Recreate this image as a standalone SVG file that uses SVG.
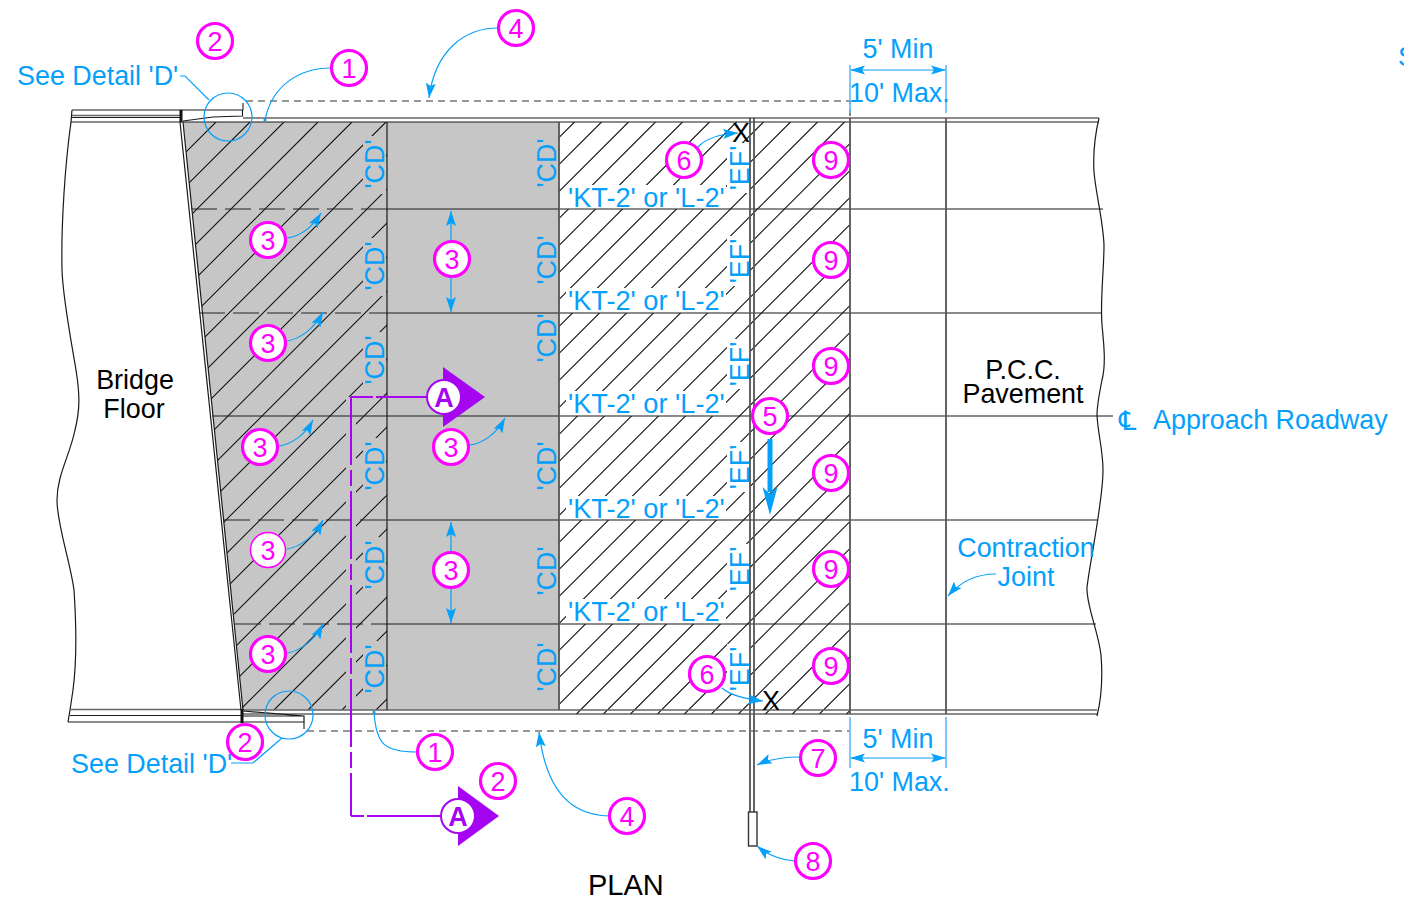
<svg xmlns="http://www.w3.org/2000/svg" width="1404" height="910" viewBox="0 0 1404 910">
<style>
text{font-family:"Liberation Sans",Arial,sans-serif;font-size:26.9px}
.b{fill:#05a0fa}.k{fill:#000}
.m{fill:#ff00ff;text-anchor:middle;font-size:27px}
.c{fill:#fff;stroke:#ff00ff;stroke-width:3.200}
.c1{fill:#fff;stroke:#ff00ff;stroke-width:1.500}
.l{fill:none;stroke:#05a0fa;stroke-width:1.200}
.la{fill:none;stroke:#05a0fa;stroke-width:1.200;marker-end:url(#ah)}
.ld{fill:none;stroke:#05a0fa;stroke-width:1.200;marker-end:url(#dot)}
.d{fill:none;stroke:#58bdf8;stroke-width:1.600}
.s{fill:none;stroke:#1a1a1a;stroke-width:1.200}
.g{fill:none;stroke:#666;stroke-width:1.600}
.v{fill:none;stroke:#555;stroke-width:1.800}
.da{fill:none;stroke:#222;stroke-width:1.200;stroke-dasharray:26 8}
.ds{fill:none;stroke:#333;stroke-width:1.200;stroke-dasharray:7 5}
.pg{fill:#c6c6c6}.pw{fill:#fff}
.p{fill:none;stroke:#a505f0;stroke-width:2}
.t{fill:#a505f0}
.cA{fill:#fff;stroke:#a505f0;stroke-width:2}
.A{fill:#a505f0;font-weight:bold;text-anchor:middle;font-size:27px}
.mid{text-anchor:middle}
.kt{font-size:27.200px}
</style>
<defs>
<marker id="ah" markerUnits="userSpaceOnUse" markerWidth="16" markerHeight="10" refX="15" refY="5" orient="auto"><path d="M0,0 L15,5 L0,10 L3,5Z" fill="#05a0fa"/></marker>
<marker id="dot" markerUnits="userSpaceOnUse" markerWidth="4" markerHeight="4" refX="2" refY="2" orient="auto"><circle cx="2" cy="2" r="1.600" fill="#05a0fa"/></marker>
<clipPath id="cl"><polygon points="183,122 387,122 387,710 243,710"/></clipPath>
<clipPath id="cr"><rect x="559" y="122" width="291" height="592"/></clipPath>
</defs>

<g id="slab">
<polygon class="pg" points="183,122 559,122 559,710 243,710"/>
<path clip-path="url(#cl)" fill="none" stroke="#111" stroke-width="1.100" d="M216,122l-588,588M250,122l-588,588M284,122l-588,588M318,122l-588,588M352,122l-588,588M386,122l-588,588M420,122l-588,588M454,122l-588,588M488,122l-588,588M522,122l-588,588M556,122l-588,588M590,122l-588,588M624,122l-588,588M658,122l-588,588M692,122l-588,588M726,122l-588,588M760,122l-588,588M794,122l-588,588M828,122l-588,588M862,122l-588,588M896,122l-588,588M930,122l-588,588M964,122l-588,588"/>
<path clip-path="url(#cr)" fill="none" stroke="#111" stroke-width="1.100" d="M574.500,122l-592,592M601.500,122l-592,592M628.500,122l-592,592M655.500,122l-592,592M682.500,122l-592,592M709.500,122l-592,592M736.500,122l-592,592M763.500,122l-592,592M790.500,122l-592,592M817.500,122l-592,592M844.500,122l-592,592M871.500,122l-592,592M898.500,122l-592,592M925.500,122l-592,592M952.500,122l-592,592M979.500,122l-592,592M1006.500,122l-592,592M1033.500,122l-592,592M1060.500,122l-592,592M1087.500,122l-592,592M1114.500,122l-592,592M1141.500,122l-592,592M1168.500,122l-592,592M1195.500,122l-592,592M1222.500,122l-592,592M1249.500,122l-592,592M1276.500,122l-592,592M1303.500,122l-592,592M1330.500,122l-592,592M1357.500,122l-592,592M1384.500,122l-592,592M1411.500,122l-592,592M1438.500,122l-592,592"/>
</g>

<g id="hatch-gaps">
<rect class="pg" x="346" y="397" width="10" height="313"/>
<rect class="pg" x="363" y="136" width="23" height="58"/>
<rect class="pg" x="363" y="238" width="23" height="58"/>
<rect class="pg" x="363" y="332" width="23" height="58"/>
<rect class="pg" x="363" y="438" width="23" height="58"/>
<rect class="pg" x="363" y="537" width="23" height="58"/>
<rect class="pg" x="363" y="641" width="23" height="58"/>
<rect class="pw" x="566" y="185" width="160" height="24"/>
<rect class="pw" x="566" y="288" width="160" height="25"/>
<rect class="pw" x="566" y="391" width="160" height="25"/>
<rect class="pw" x="566" y="496" width="160" height="24"/>
<rect class="pw" x="566" y="599" width="160" height="25"/>
<rect class="pw" x="727" y="143" width="23" height="50"/>
<rect class="pw" x="727" y="236" width="23" height="50"/>
<rect class="pw" x="727" y="339" width="23" height="50"/>
<rect class="pw" x="727" y="442" width="23" height="50"/>
<rect class="pw" x="727" y="544" width="23" height="50"/>
<rect class="pw" x="727" y="644" width="23" height="50"/>
</g>

<g id="structure">
<path class="s" d="M72,110 L71,122 C65,165 61,225 62,270 C63,300 72,345 76,370 C80,395 80,410 75,430 C70,455 57,475 57,500 C57,525 70,560 74,590 C76,620 77,660 73,690 L70,710 L68,722"/>
<path class="s" d="M1099,118 C1095,135 1093,155 1094,172 C1096,195 1103,220 1104,245 C1104,270 1100,300 1102,325 C1104,345 1106,365 1102,380 C1099,395 1097,405 1097,415 C1098,435 1103,450 1103,470 C1103,500 1092,550 1087,587 C1086,605 1098,630 1101,655 C1103,680 1101,700 1097,716"/>
<path class="g" d="M72,110H180M72,115.500H180M243,118H1099M70,709.500H243M243,710H1097" stroke-width="1.200"/>
<path class="s" d="M72,117.500H180M71,122H1099M70,715.500H242M68,722H242M243,714H1097" stroke-width="1.400"/>
<path class="s" d="M180,110H242.500V116L213,117L183,121"/>
<path class="s" d="M243,711L304,716V722H243M243,716H304"/>
<path fill="none" stroke="#111" stroke-width="3" d="M181,110V122M242,709V723"/>
<path class="s" d="M180,122L241,710M183,122L243,710"/>
<path class="ds" d="M243,110V101H850V118"/>
<path class="ds" d="M304,722V731H850"/>
<path class="da" d="M191,209H387M199,313H387M224,520H387M235,624H387"/>
<path class="s" d="M387,209H1103M387,313H1102M212,416H1113M387,520H1097M387,624H1096"/>
<path class="s" d="M387,122V710"/>
<path class="v" d="M559,122V710M850,118V714M946,118V714"/>
<path class="v" d="M750,118V812M754,118V812"/>
<rect x="748.500" y="812" width="8.500" height="34" fill="#fff" stroke="#333" stroke-width="1.400"/>
</g>

<g id="connectors">
<path class="l" d="M180,76H185L209,100"/>
<circle class="l" cx="228" cy="117" r="24"/>
<path class="l" d="M231,763H253L282,738"/>
<circle class="l" cx="289" cy="715" r="24"/>
<path class="ld" d="M331,68C300,68 272,85 265,120"/>
<path class="la" d="M498,28C465,28 435,50 429,98"/>
<path class="la" d="M287,238C300,236 312,228 321,213"/>
<path class="la" d="M287,341C300,339 314,329 323,312"/>
<path class="la" d="M279,446C292,444 305,435 313,420"/>
<path class="la" d="M287,549C300,547 314,537 323,520"/>
<path class="la" d="M287,653C300,651 314,641 323,624"/>
<path class="la" d="M470,445C484,443 497,433 505,418"/>
<path class="la" d="M451,241V211"/>
<path class="la" d="M451,277V312"/>
<path class="la" d="M451,552V522"/>
<path class="la" d="M451,588V623"/>
<path class="la" d="M698,147C707,137 722,134 738,133"/>
<path class="la" d="M722,688C730,695 745,699 763,701"/>
<path class="la" d="M800,757C785,757 770,759 757,765"/>
<path class="la" d="M795,861C780,860 768,855 757,846"/>
<path class="la" d="M609,816C570,815 546,790 539,732"/>
<path class="ld" d="M417,752C385,752 376,745 374,712"/>
<path class="la" d="M996,574C975,574 960,582 948,596"/>
<path d="M770,439V492" fill="none" stroke="#05a0fa" stroke-width="5"/>
<polygon class="b" points="762.500,487 770,515 777.500,487 770,494"/>
<path class="d" d="M850,65V113M946,65V113M850,717V768M946,717V768"/>
<path class="d" d="M851,70H945M851,758H945"/>
<polygon class="b" points="850,70 865,65.500 862,70 865,74.500"/>
<polygon class="b" points="946,70 931,65.500 934,70 931,74.500"/>
<polygon class="b" points="850,758 865,753.500 862,758 865,762.500"/>
<polygon class="b" points="946,758 931,753.500 934,758 931,762.500"/>
</g>

<g id="section-line">
<path class="p" stroke-dasharray="50 3 22" d="M426,397H351"/>
<path class="p" stroke-dasharray="68 5 16 5" d="M351,397V816"/>
<path class="p" stroke-dasharray="13 3 80" d="M351,816H442"/>
</g>
<g id="section-top"><polygon class="t" points="443,367 485,397 443,427"/><circle class="cA" cx="444" cy="397" r="17"/><text class="A" x="444" y="407">A</text></g>
<g id="section-bottom"><polygon class="t" points="458,786 499,816 458,846"/><circle class="cA" cx="458" cy="816" r="17"/><text class="A" x="458" y="826">A</text></g>

<g id="labels">
<text class="b" x="17" y="85">See Detail 'D'</text>
<text class="b" x="71" y="773">See Detail 'D'</text>
<text class="b" x="1398" y="66">S</text>
<text class="b mid" x="898" y="58">5' Min</text>
<text class="b" x="849" y="102">10' Max.</text>
<text class="b mid" x="898" y="748">5' Min</text>
<text class="b" x="849" y="791">10' Max.</text>
<text class="b" x="1119" y="430" style="font-family:'DejaVu Sans',sans-serif">℄</text>
<text class="b" x="1153" y="429">Approach Roadway</text>
<text class="b mid" x="1026" y="557">Contraction</text>
<text class="b mid" x="1026" y="586">Joint</text>
<text class="k mid" x="135" y="389">Bridge</text>
<text class="k mid" x="134" y="418">Floor</text>
<text class="k mid" x="1023" y="379">P.C.C.</text>
<text class="k mid" x="1023" y="403">Pavement</text>
<text class="k" x="588" y="895" style="font-size:29px">PLAN</text>
<text class="k mid" x="741" y="142">X</text>
<text class="k mid" x="771" y="710">X</text>
<text class="b kt" x="568" y="207">'KT-2' or 'L-2'</text>
<text class="b kt" x="568" y="310">'KT-2' or 'L-2'</text>
<text class="b kt" x="568" y="413">'KT-2' or 'L-2'</text>
<text class="b kt" x="568" y="518">'KT-2' or 'L-2'</text>
<text class="b kt" x="568" y="621">'KT-2' or 'L-2'</text>
<text class="b mid" transform="translate(384,164) rotate(-90)">'CD'</text>
<text class="b mid" transform="translate(384,266) rotate(-90)">'CD'</text>
<text class="b mid" transform="translate(384,360) rotate(-90)">'CD'</text>
<text class="b mid" transform="translate(384,466) rotate(-90)">'CD'</text>
<text class="b mid" transform="translate(384,565) rotate(-90)">'CD'</text>
<text class="b mid" transform="translate(384,669) rotate(-90)">'CD'</text>
<text class="b mid" transform="translate(556,163) rotate(-90)">'CD'</text>
<text class="b mid" transform="translate(556,260) rotate(-90)">'CD'</text>
<text class="b mid" transform="translate(556,338) rotate(-90)">'CD'</text>
<text class="b mid" transform="translate(556,466) rotate(-90)">'CD'</text>
<text class="b mid" transform="translate(556,571) rotate(-90)">'CD'</text>
<text class="b mid" transform="translate(556,667) rotate(-90)">'CD'</text>
<text class="b mid" transform="translate(749,168) rotate(-90)">'EF'</text>
<text class="b mid" transform="translate(749,261) rotate(-90)">'EF'</text>
<text class="b mid" transform="translate(749,364) rotate(-90)">'EF'</text>
<text class="b mid" transform="translate(749,467) rotate(-90)">'EF'</text>
<text class="b mid" transform="translate(749,569) rotate(-90)">'EF'</text>
<text class="b mid" transform="translate(749,669) rotate(-90)">'EF'</text>
</g>

<g id="n2a"><circle class="c" cx="215" cy="41" r="17.500"/><text class="m" x="215" y="51">2</text></g>
<g id="n1a"><circle class="c" cx="349" cy="68" r="17.500"/><text class="m" x="349" y="78">1</text></g>
<g id="n4a"><circle class="c" cx="516" cy="28" r="17.500"/><text class="m" x="516" y="38">4</text></g>
<g id="n3a"><circle class="c" cx="268" cy="240" r="17.500"/><text class="m" x="268" y="250">3</text></g>
<g id="n3b"><circle class="c" cx="268" cy="343" r="17.500"/><text class="m" x="268" y="353">3</text></g>
<g id="n3c"><circle class="c" cx="260" cy="447" r="17.500"/><text class="m" x="260" y="457">3</text></g>
<g id="n3d"><circle class="c1" cx="268" cy="550" r="17.500"/><text class="m" x="268" y="560">3</text></g>
<g id="n3e"><circle class="c" cx="268" cy="654" r="17.500"/><text class="m" x="268" y="664">3</text></g>
<g id="n3f"><circle class="c" cx="452" cy="259" r="17.500"/><text class="m" x="452" y="269">3</text></g>
<g id="n3g"><circle class="c" cx="451" cy="447" r="17.500"/><text class="m" x="451" y="457">3</text></g>
<g id="n3h"><circle class="c" cx="451" cy="570" r="17.500"/><text class="m" x="451" y="580">3</text></g>
<g id="n6a"><circle class="c" cx="684" cy="160" r="17.500"/><text class="m" x="684" y="170">6</text></g>
<g id="n9a"><circle class="c" cx="831" cy="160" r="17.500"/><text class="m" x="831" y="170">9</text></g>
<g id="n9b"><circle class="c" cx="831" cy="260" r="17.500"/><text class="m" x="831" y="270">9</text></g>
<g id="n9c"><circle class="c" cx="831" cy="366" r="17.500"/><text class="m" x="831" y="376">9</text></g>
<g id="n9d"><circle class="c" cx="831" cy="473" r="17.500"/><text class="m" x="831" y="483">9</text></g>
<g id="n9e"><circle class="c" cx="831" cy="569" r="17.500"/><text class="m" x="831" y="579">9</text></g>
<g id="n9f"><circle class="c" cx="831" cy="666" r="17.500"/><text class="m" x="831" y="676">9</text></g>
<g id="n5"><circle class="c" cx="770" cy="416" r="17.500"/><text class="m" x="770" y="426">5</text></g>
<g id="n6b"><circle class="c" cx="707" cy="674" r="17.500"/><text class="m" x="707" y="684">6</text></g>
<g id="n2b"><circle class="c" cx="245" cy="742" r="17.500"/><text class="m" x="245" y="752">2</text></g>
<g id="n1b"><circle class="c" cx="435" cy="752" r="17.500"/><text class="m" x="435" y="762">1</text></g>
<g id="n2c"><circle class="c" cx="498" cy="781" r="17.500"/><text class="m" x="498" y="791">2</text></g>
<g id="n4b"><circle class="c" cx="627" cy="816" r="17.500"/><text class="m" x="627" y="826">4</text></g>
<g id="n7"><circle class="c" cx="818" cy="758" r="17.500"/><text class="m" x="818" y="768">7</text></g>
<g id="n8"><circle class="c" cx="813" cy="861" r="17.500"/><text class="m" x="813" y="871">8</text></g>
</svg>
